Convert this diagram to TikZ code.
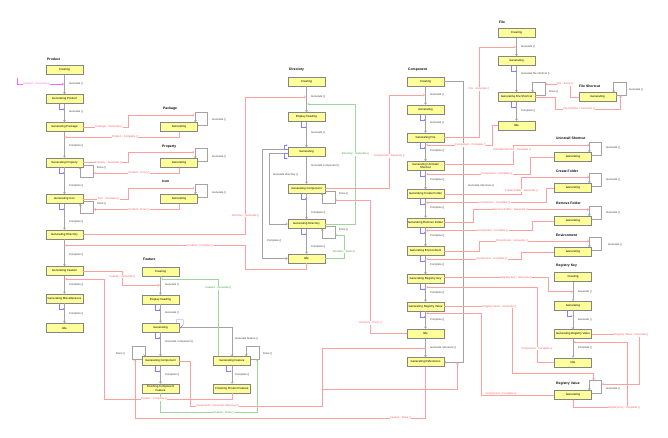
\documentclass[tikz,border=0pt]{standalone}
\usepackage{fontspec}
\setmainfont{Liberation Sans}
\usetikzlibrary{arrows.meta}
\definecolor{stfill}{HTML}{FFFF99}
\definecolor{stdraw}{HTML}{858585}
\definecolor{trc}{HTML}{A3A3A3}
\definecolor{evc}{HTML}{FFA0A0}
\definecolor{evt}{HTML}{FF5A5A}
\definecolor{mgc}{HTML}{FF66FF}
\definecolor{gnc}{HTML}{9ED69E}
\definecolor{gnt}{HTML}{3A9F3A}
\definecolor{blc}{HTML}{8080FF}
\definecolor{lbt}{HTML}{404040}
\newcommand\genloop[1]{\draw[tr] ([yshift=2pt]#1.east) -| ++(10,-13) -| ([xshift=-2.5pt]#1.north east);}
\newcommand\dnloop[1]{\draw[tr] ([yshift=-2.5pt]#1.east) -| ++(10,12) -| ([xshift=-3pt]#1.south east);}
\newcommand\bmark[1]{\draw[bl] (#1.south) ++(-5.5,0) -- ++(0,5.5) -- ++(5,0);}
\begin{document}
\begin{tikzpicture}[x=1pt,y=-1pt,
 st/.style={draw=stdraw, line width=0.4pt, fill=stfill, minimum width=37pt, minimum height=9pt, inner sep=0pt, align=center, font=\fontsize{2.9}{3.2}\selectfont},
 ttl/.style={anchor=west, inner sep=0pt, font=\bfseries\fontsize{3.4}{4}\selectfont},
 tr/.style={draw=trc, line width=0.45pt, -{Straight Barb[length=1.6pt,width=2.4pt]}},
 lb/.style={anchor=west, inner sep=0pt, text=lbt, font=\fontsize{2.7}{3}\selectfont},
 ev/.style={draw=evc, line width=0.45pt, -{Straight Barb[length=1.6pt,width=2.4pt]}},
 evl/.style={fill=white, inner sep=0.4pt, text=evt, font=\fontsize{2.7}{3}\selectfont},
 evm/.style={ev, draw=mgc},
 mgl/.style={evl, text=mgc},
 evg/.style={ev, draw=gnc},
 gnl/.style={evl, text=gnt},
 bl/.style={draw=blc, line width=0.3pt, -{Straight Barb[length=0.9pt,width=1.6pt]}}]
\useasboundingbox[fill=white] (0,0) rectangle (668,437);

% ---------------- Product
\node[ttl] (pT) at (47,59) {Product};
\node[st] (p1) at (64.5,70) {Creating};
\node[st] (p2) at (64.5,99) {Generating Product};
\node[st] (p3) at (64.5,127) {Generating Package};
\node[st] (p4) at (64.5,162.5) {Generating Property};
\node[st] (p5) at (64.5,199) {Generating Icon};
\node[st] (p6) at (64.5,234.5) {Generating Directory};
\node[st] (p7) at (64.5,271) {Generating Feature};
\node[st] (p8) at (64.5,298.5) {Generating Miscellaneous};
\node[st] (p9) at (64.5,328) {Idle};
% Package / Property / Icon
\node[ttl] (pkT) at (163,109) {Package};
\node[st] (pk) at (179,127) {Generating};
\node[ttl] (prT) at (162,147) {Property};
\node[st] (pr) at (179,163) {Generating};
\node[ttl] (icT) at (162,181) {Icon};
\node[st] (ic) at (179,199) {Generating};
% ---------------- Feature
\node[ttl] (fT) at (143,259.5) {Feature};
\node[st] (f1) at (160.5,271.5) {Creating};
\node[st] (f2) at (160.5,299.5) {Display Heading};
\node[st] (f3) at (160.5,327.5) {Generating};
\node[st] (f4) at (160.5,361) {Generating Component};
\node[st] (f5) at (160.5,388.5) {Finishing Component\\Feature};
\node[st] (f6) at (232,361) {Generating Feature};
\node[st] (f7) at (232,388.5) {Finishing Product Feature};
% ---------------- Directory
\node[ttl] (dT) at (289,70) {Directory};
\node[st] (d1) at (306.5,81.5) {Creating};
\node[st] (d2) at (306.5,117) {Display Heading};
\node[st] (d3) at (306.5,152) {Generating};
\node[st] (d4) at (306.5,188.5) {Generating Component};
\node[st] (d5) at (306.5,224) {Generating Directory};
\node[st] (d6) at (306.5,258.5) {Idle};
% ---------------- Component
\node[ttl] (cT) at (408,70) {Component};
\node[st] (c1) at (425.5,81.5) {Creating};
\node[st] (c2) at (425.5,109.5) {Generating};
\node[st] (c3) at (425.5,137.5) {Generating File};
\node[st] (c4) at (425.5,166) {Generating Uninstall\\Shortcut};
\node[st] (c5) at (425.5,194) {Generating Create Folder};
\node[st] (c6) at (425.5,222.5) {Generating Remove Folder};
\node[st] (c7) at (425.5,251) {Generating Environment};
\node[st] (c8) at (425.5,279) {Generating Registry Key};
\node[st] (c9) at (425.5,306.5) {Generating Registry Value};
\node[st] (c10) at (425.5,333.5) {Idle};
\node[st] (c11) at (425.5,362) {Generating References};
% ---------------- File
\node[ttl] (flT) at (499,22) {File};
\node[st] (fl1) at (516.5,33) {Creating};
\node[st] (fl2) at (516.5,61) {Generating};
\node[st] (fl3) at (516.5,97) {Generating File Shortcut};
\node[st] (fl4) at (516.5,125.5) {Idle};
\node[ttl] (fsT) at (579,86) {File Shortcut};
\node[st] (fs) at (597.5,97) {Generating};
% ---------------- small machines
\node[ttl] (usT) at (556,138) {Uninstall Shortcut};
\node[st] (us) at (573,157) {Generating};
\node[ttl] (cfT) at (556,171) {Create Folder};
\node[st] (cf) at (573,188) {Generating};
\node[ttl] (rfT) at (556,203.5) {Remove Folder};
\node[st] (rf) at (573,221) {Generating};
\node[ttl] (enT) at (556,235) {Environment};
\node[st] (en) at (573,252) {Generating};
\node[ttl] (rkT) at (556,266) {Registry Key};
\node[st] (rk1) at (573,277) {Creating};
\node[st] (rk2) at (573,305.7) {Generating};
\node[st] (rk3) at (573,334) {Generating Registry Value};
\node[st] (rk4) at (573,362.3) {Idle};
\node[ttl] (rvT) at (556,384) {Registry Value};
\node[st] (rv) at (573,395) {Generating};

% ---------------- event end points
\coordinate (pgin) at (17,78);
\coordinate (pgto) at (64,84);
\coordinate (pkin) at (194.6,115);
\coordinate (prin) at (194.6,152);
\coordinate (icin) at (194.6,188);
\coordinate (pkdone) at (65.2,137);
\coordinate (p4dn) at (93.9,173);
\coordinate (p5dn) at (93.9,209.5);
\coordinate (p6ev) at (65.2,245.5);
\coordinate (p7ev) at (65.2,279);
\coordinate (d1ev) at (306,97);
\coordinate (d1gev) at (307.2,104);
\coordinate (d4dn) at (335.3,200);
\coordinate (d5dn) at (335.3,235);
\coordinate (f1ev) at (160,285);
\coordinate (f1gev) at (161.2,279);
\coordinate (f4dn) at (135,359.4);
\coordinate (f6dn) at (257,359.4);
\coordinate (c1ev) at (425,95);
\coordinate (c10ev) at (426.2,348);
\coordinate (c11ev) at (457.5,362.5);
\coordinate (c3ev) at (426.2,145);
\coordinate (c4ev) at (426.2,174);
\coordinate (c5ev) at (426.2,202.5);
\coordinate (c6ev) at (426.2,230.7);
\coordinate (c7ev) at (426.2,259);
\coordinate (c8ev) at (426.2,287);
\coordinate (c9ev) at (426.2,313.3);
\coordinate (fl1ev) at (516,47);
\coordinate (fl3dn) at (545.4,84);
\coordinate (fsin) at (620.5,95.4);
\coordinate (usin) at (589.1,145);
\coordinate (cfin) at (589.1,177);
\coordinate (rfin) at (589.1,209.5);
\coordinate (enin) at (589.1,241);
\coordinate (rk2ev) at (573,291.7);
\coordinate (rk3ev) at (573.5,342);
\coordinate (rvin1) at (593.5,380.4);
\coordinate (rvin2) at (601.9,384);

% ---------------- state transitions (grey)
\foreach \a/\b in {p1/p2,p2/p3,p3/p4,p4/p5,p5/p6,p6/p7,p7/p8,p8/p9,
  f1/f2,f2/f3,f3/f4,f4/f5,f6/f7,d1/d2,d2/d3,d3/d4,d4/d5,d5/d6,
  c1/c2,c2/c3,c3/c4,c4/c5,c5/c6,c6/c7,c7/c8,c8/c9,c9/c10,c10/c11,
  fl1/fl2,fl2/fl3,fl3/fl4,rk1/rk2,rk2/rk3,rk3/rk4}
  {\draw[tr] (\a) -- (\b);}
\draw[tr] (f3.east) -| (f6.north);
\draw[tr] ([yshift=-1pt]d3.west) -| (269,224) -- (d5.west);
\draw[tr] ([yshift=3pt]d3.west) -| (262,258.5) -- (d6.west);
\draw[tr] (c1.east) -| (463,362) -- (c11.east);
% loops
\genloop{pk}\genloop{pr}\genloop{ic}\genloop{fs}\genloop{fl3}
\genloop{us}\genloop{cf}\genloop{rf}\genloop{en}\genloop{rv}
\dnloop{p4}\dnloop{p5}\dnloop{d4}\dnloop{d5}
\draw[tr] ([yshift=2pt]f4.west) -| ++(-10,-13) -| ([xshift=3pt]f4.north west);
\draw[tr] ([yshift=2pt]f6.east) -| ++(8.5,-13) -| ([xshift=-4.5pt]f6.north east);
% blue completion marks
\bmark{p2}\bmark{p4}\bmark{p5}\bmark{p8}
\bmark{f2}\bmark{f3}\bmark{f4}
\draw[bl] (f6.south) ++(-5.5,0) -- ++(0,5.5) -- ++(5,0);
\bmark{d2}\bmark{d4}\bmark{d5}
\bmark{c2}\bmark{c3}\bmark{c4}\bmark{c5}\bmark{c6}\bmark{c7}\bmark{c8}\bmark{c9}
\bmark{fl2}\bmark{fl3}\bmark{rk2}
\draw[bl] ([xshift=-3pt]f3.north east) -- ++(0,-3) -- ++(7,0) -- ++(0,5) -- ([yshift=-1.5pt]f3.east);
\draw[bl] ([yshift=3pt]d3.west) -- ++(-3.5,0) -- ++(0,-4) -- ++(3.2,0);
\draw[bl] ([yshift=-1.5pt]d3.west) -- ++(-3.5,0) -- ++(0,5) -- ++(3.2,0);

% ---------------- events
\draw[evm] (pgin) |- (pgto);
\draw[ev] (p3.east) -| (128.5,115) -- (pkin);
\draw[ev] (pk.south) |- (pkdone);
\draw[ev] (p4.east) -| (128.5,152) -- (prin);
\draw[ev] (pr.south) |- (p4dn);
\draw[ev] (p5.east) -| (128.5,188) -- (icin);
\draw[ev] (ic.south) |- (p5dn);
\draw[ev] (p6.east) -| (245.5,97) -- (d1ev);
\draw[ev] (d6.south) |- (245.5,269) |- (p6ev);
\draw[ev] (p7.east) -| (122.5,285) -- (f1ev);
\draw[ev] (f7.south) |- (104,399) |- (p7ev);
\draw[evg] ([xshift=-13.5pt]f6.north) |- (f1gev);
\draw[evg] (f5.south) |- (257,412.5) -- (f6dn);
\draw[ev] (f4.east) -| (190,406) -| (322,348) -- (c10ev);
\draw[ev] (322,389) -| (c11ev);
\draw[ev] (c11.south) |- (135,418) -- (f4dn);
\draw[evg] (d5.east) -| (355.5,104) -- (d1gev);
\draw[evg] (d6.east) -| (344,235) -- (d5dn);
\draw[ev] (d4.east) -| (389.5,95) -- (c1ev);
\draw[ev] (c10.west) -| (370.5,200) -- (d4dn);
\draw[ev] (c3.east) -| (479,47) -- (fl1ev);
\draw[ev] (fl4.west) -| (492,145) -- (c3ev);
\draw[ev] (fl3.east) -| (555,109) -| (fsin);
\draw[ev] (fs.west) -| (570,84) -- (fl3dn);
\draw[ev] ([yshift=1.5pt]c4.east) -| (513,145) -- (usin);
\draw[ev] (us.west) -| (530,174) -- (c4ev);
\draw[ev] (c5.east) -| (521.5,177) -- (cfin);
\draw[ev] (cf.west) -| (546.5,202.5) -- (c5ev);
\draw[ev] (c6.east) -| (473,209.5) -- (rfin);
\draw[ev] (rf.west) -| (532,230.7) -- (c6ev);
\draw[ev] (c7.east) -| (479,241) -- (enin);
\draw[ev] (en.west) -| (521.5,259) -- (c7ev);
\draw[ev] ([yshift=1.5pt]c8.east) -| (548.5,291.7) -- (rk2ev);
\draw[ev] (rk4.west) -| (537,287) -- (c8ev);
\draw[ev] (c9.east) -| (512.5,373.3) -| (rvin1);
\draw[ev] (rk3.east) -| (639.5,384) -- (rvin2);
\draw[ev] (rv.south) |- (627,407.5) |- (rk3ev);
\draw[ev] (rv.west) -| (481.7,313.3) -- (c9ev);

% ---------------- transition labels (grey)
\foreach \t/\y [count=\i] in {Generate ()/84,Generate ()/112,Complete ()/145.5,Complete ()/186,Complete ()/222,Complete ()/255,Complete ()/285,Complete ()/313.5}
  {\node[lb] (lp\i) at (69,\y) {\t};}
\node[lb] (lpd1) at (97,167.3) {Done ()};
\node[lb] (lpd2) at (97,203.3) {Done ()};
\node[lb] (lpk) at (212,120) {Generate ()};
\node[lb] (lpr) at (212,156.5) {Generate ()};
\node[lb] (lic) at (212,192.5) {Generate ()};
\node[lb] (lf1) at (165,285) {Generate ()};
\node[lb] (lf2) at (165,313) {Generate ()};
\node[lb] (lf3) at (165,341.5) {Generate component ()};
\node[lb] (lf4) at (165,374.5) {Complete ()};
\node[lb] (lf5) at (235,374.5) {Complete ()};
\node[lb] (lf6) at (235,338.7) {Generate feature ()};
\node[lb] (lf7) at (116,354) {Done ()};
\node[lb] (lf8) at (263,354) {Done ()};
\node[lb] (ld1) at (311,97) {Generate ()};
\node[lb] (ld2) at (311,132.5) {Generate ()};
\node[lb] (ld3) at (311,166) {Generate component ()};
\node[lb] (ld4) at (311,213) {Complete ()};
\node[lb] (ld5) at (311,247) {Complete ()};
\node[lb] (ld6) at (339,194) {Done ()};
\node[lb] (ld7) at (339,230) {Done ()};
\node[lb] (ld8) at (273,175) {Generate directory ()};
\node[lb] (ld9) at (267,241) {Complete ()};
\node[lb] (lc1) at (430,95) {Generate ()};
\node[lb] (lc2) at (430,123) {Generate ()};
\foreach \y [count=\i] in {150.7,179.3,207.7,236,264.3,292.7,320}
  {\node[lb] (lcc\i) at (430,\y) {Complete ()};}
\node[lb] (lc3) at (430,348) {Generate reference ()};
\node[lb] (lc4) at (468,186) {Generate reference ()};
\node[lb] (lfl1) at (521,47) {Generate ()};
\node[lb] (lfl2) at (521,74) {Generate file shortcut ()};
\node[lb] (lfl3) at (521,110.5) {Complete ()};
\node[lb] (lfl4) at (549,92) {Done ()};
\node[lb] (lfs) at (629,90) {Generate ()};
\node[lb] (lus) at (606,148) {Generate ()};
\node[lb] (lcf) at (606,180) {Generate ()};
\node[lb] (lrf) at (606,212.7) {Generate ()};
\node[lb] (len) at (608,244.3) {Generate ()};
\node[lb] (lrk1) at (577.7,291.7) {Generate ()};
\node[lb] (lrk2) at (577.7,320) {Generate ()};
\node[lb] (lrk3) at (577.7,347.7) {Complete ()};
\node[lb] (lrv) at (606,389) {Generate ()};

% ---------------- event labels
\node[mgl] (e1) at (36.5,84) {Product : Generate ()};
\node[evl] (e2) at (109,127) {Package : Generate ()};
\node[evl] (e3) at (125,137) {Product : Complete ()};
\node[evl] (e4) at (108.5,162.5) {Property : Generate ()};
\node[evl] (e5) at (139,173) {Product : Done ()};
\node[evl] (e6) at (108.5,199) {Icon : Generate ()};
\node[evl] (e7) at (139,209.5) {Product : Done ()};
\node[evl] (e8) at (245.5,215.5) {Directory : Generate ()};
\node[evl] (e9) at (200.5,245.5) {Product : Complete ()};
\node[evl] (e10) at (122.5,276.5) {Feature : Generate ()};
\node[evl] (e11) at (154,399) {Product : Complete ()};
\node[gnl] (e12) at (218.5,288) {Feature : Generate ()};
\node[gnl] (e13) at (224,412.5) {Feature : Done ()};
\node[evl] (e14) at (217.5,406) {Component : Generate reference ()};
\node[evl] (e15) at (400.5,418) {Feature : Done ()};
\node[gnl] (e16) at (355.5,154) {Directory : Generate ()};
\node[gnl] (e17) at (344,251.5) {Directory : Done ()};
\node[evl] (e18) at (389.5,156) {Component : Generate ()};
\node[evl] (e19) at (370.5,323) {Directory : Done ()};
\node[evl] (e20) at (479,89) {File : Generate ()};
\node[evl] (e21) at (470.5,145) {Component : Complete ()};
\node[evl] (e22) at (579,109) {File Shortcut : Generate ()};
\node[evl] (e23) at (565,84) {File : Done ()};
\node[evl] (e24) at (512,149.5) {Uninstall Shortcut : Generate ()};
\node[evl] (e25) at (497,174) {Component : Complete ()};
\node[evl] (e26) at (521.5,190.5) {Create Folder : Generate ()};
\node[evl] (e27) at (495,202.5) {Component : Complete ()};
\node[evl] (e28) at (510.5,209.5) {Remove Folder : Generate ()};
\node[evl] (e29) at (493,230.7) {Component : Complete ()};
\node[evl] (e30) at (512,241) {Environment : Generate ()};
\node[evl] (e31) at (492,259) {Component : Complete ()};
\node[evl] (e32) at (516,277.5) {Registry Key : Generate ()};
\node[evl] (e33) at (537,348.5) {Component : Complete ()};
\node[evl] (e34) at (499.5,306.7) {Registry Value : Generate ()};
\node[evl] (e35) at (631.5,335) {Registry Value : Generate ()};
\node[evl] (e36) at (624,407.5) {Registry Key : Complete ()};
\node[evl] (e37) at (501,393.3) {Component : Complete ()};
\end{tikzpicture}
\end{document}
